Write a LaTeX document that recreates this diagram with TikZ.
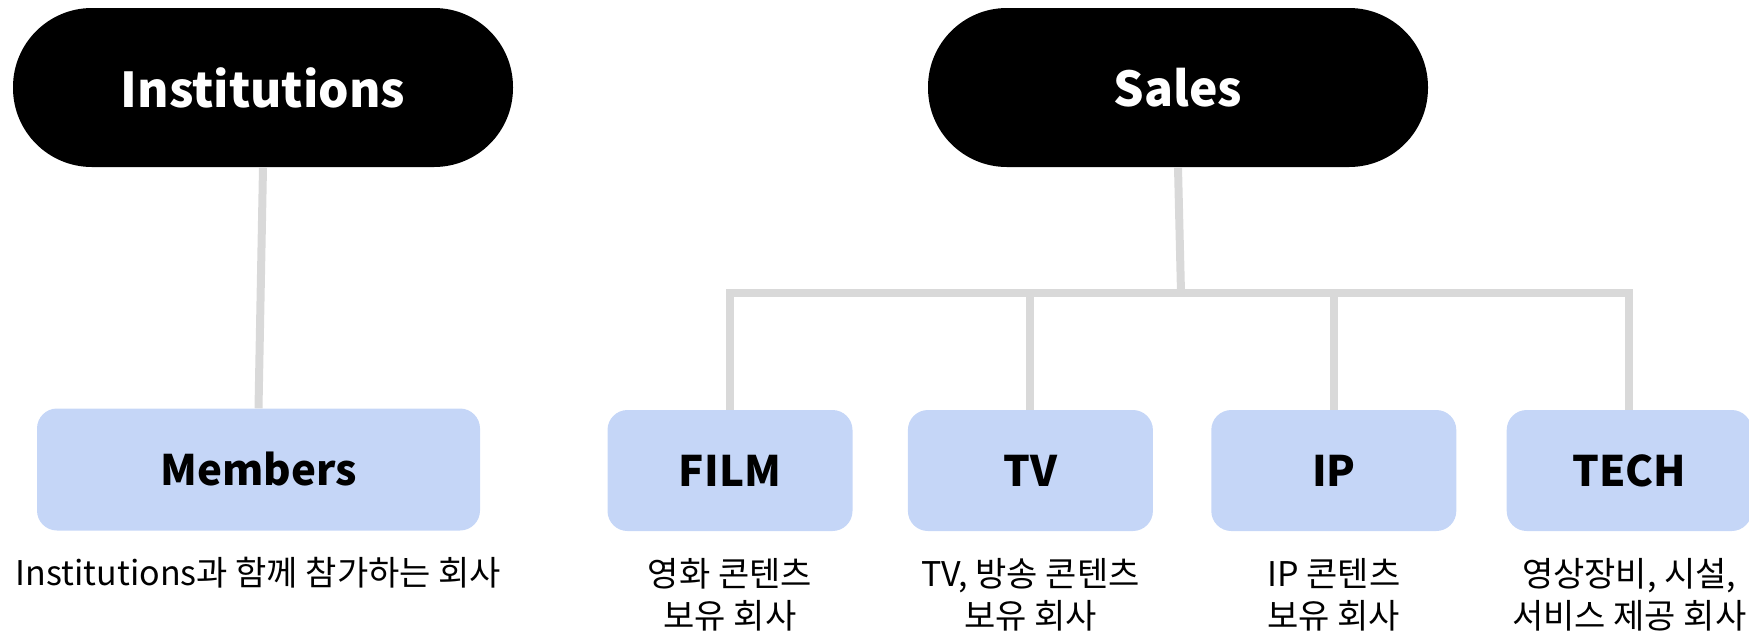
\documentclass[tikz,border=0pt]{standalone}
\usepackage{fontspec}
\setmainfont{Noto Sans CJK KR}
\usepackage{xcolor}
\usepackage{tikz}
\usetikzlibrary{positioning}
\definecolor{boxblue}{HTML}{C5D6F7}
\definecolor{linkgray}{HTML}{D9D9D9}

\begin{document}
\begin{tikzpicture}[x=1pt, y=-1pt]
\tikzstyle{group} = [rectangle, fill=black, text=white, minimum width=500pt, minimum height=159pt, rounded corners=79pt, inner sep=0pt, font=\fontsize{48}{58}\selectfont\bfseries]
\tikzstyle{member} = [rectangle, fill=boxblue, minimum width=245pt, minimum height=121pt, rounded corners=20pt, inner sep=0pt, font=\fontsize{42}{50}\selectfont\bfseries]
\tikzstyle{desc} = [align=center, inner sep=0pt, font=\fontsize{34}{42}\selectfont]
\tikzstyle{link} = [draw=linkgray, line width=8pt]

\useasboundingbox (0,0) rectangle (1749,633);

\node (inst) [group] at (263,87.5) {Institutions};
\node (sales) [group] at (1178,87.5) {Sales};

\node (members) [member, minimum width=443pt, minimum height=122pt] at (258.5,469.5) {Members};
\node (film) [member] at (730,470.5) {FILM};
\node (tv) [member, right=55pt of film] {TV};
\node (ip) [member, right=58pt of tv] {IP};
\node (tech) [member, right=50pt of ip] {TECH};

\node (membersdesc) [desc, below=26pt of members] {Institutions과 함께 참가하는 회사};
\node (filmdesc) [desc, below=27pt of film] {영화 콘텐츠\\보유 회사};
\node (tvdesc) [desc, below=27pt of tv] {TV, 방송 콘텐츠\\보유 회사};
\node (ipdesc) [desc, below=27pt of ip] {IP 콘텐츠\\보유 회사};
\node (techdesc) [desc, below=27pt of tech] {영상장비, 시설,\\서비스 제공 회사};

\coordinate (bus) at (1181,293);

\draw [link] (inst.south) -- (members.north);
\draw [link] (sales.south) -- (bus);
\draw [link] (film.north) -- (film.north |- bus) -- (tech.north |- bus) -- (tech.north);
\draw [link] (tv.north |- bus) -- (tv.north);
\draw [link] (ip.north |- bus) -- (ip.north);

\end{tikzpicture}
\end{document}
